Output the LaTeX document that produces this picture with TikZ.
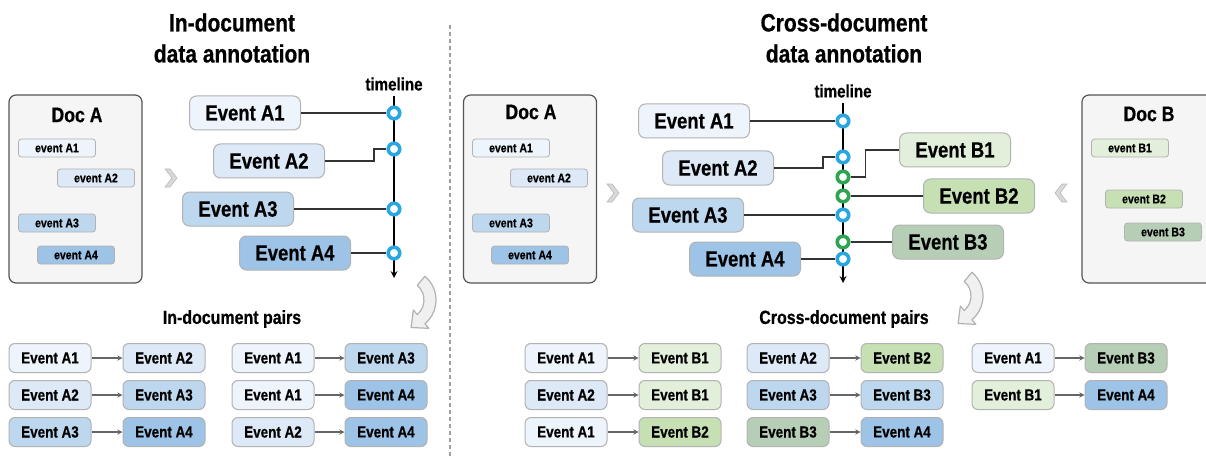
\documentclass[tikz,border=0pt]{standalone}
\usepackage{fontspec}
\setmainfont{Liberation Sans}[FakeStretch=0.84, BoldFeatures={FakeBold=0.6}]
\usetikzlibrary{positioning,calc,arrows,arrows.meta}

\definecolor{evA1}{HTML}{EEF4FB}
\definecolor{evA2}{HTML}{DDE9F6}
\definecolor{evA3}{HTML}{BDD7EE}
\definecolor{evA4}{HTML}{9DC3E6}
\definecolor{evB1}{HTML}{E2EFDA}
\definecolor{evB2}{HTML}{C6E0B4}
\definecolor{evB3}{HTML}{B6CDB6}
\definecolor{docfill}{HTML}{F5F5F5}
\definecolor{docline}{HTML}{555555}
\definecolor{dotblue}{HTML}{2AA6E0}
\definecolor{dotgreen}{HTML}{2FA452}

\tikzset{
	title/.style={align=center, font=\bfseries\fontsize{25}{31}\selectfont},
	subtitle/.style={font=\bfseries\fontsize{19}{21}\selectfont},
	docbox/.style={draw=docline, fill=docfill, rounded corners=7pt, line width=1.2pt,
		minimum width=133pt, minimum height=188pt},
	doclabel/.style={font=\bfseries\fontsize{21}{23}\selectfont, inner sep=0pt},
	smallev/.style={draw=gray!60, fill=#1, rounded corners=3pt, line width=0.8pt,
		minimum width=77pt, minimum height=18pt, inner sep=0pt,
		font=\bfseries\fontsize{12.5}{13}\selectfont},
	bigev/.style={draw=gray!60, fill=#1, rounded corners=7pt, line width=1pt,
		minimum width=111pt, minimum height=34pt, inner sep=0pt,
		font=\bfseries\fontsize{22}{24}\selectfont},
	pairev/.style={draw=gray!60, fill=#1, rounded corners=6pt, line width=1pt,
		minimum width=82pt, minimum height=29pt, inner sep=0pt,
		font=\bfseries\fontsize{16}{18}\selectfont},
	tlnode/.style={font=\bfseries\fontsize{18}{20}\selectfont, inner sep=0pt},
	dot/.style={circle, draw=#1, line width=3.6pt, fill=white, minimum size=11.5pt, inner sep=0pt},
	link/.style={draw=black!80, line width=1.2pt},
	pairarrow/.style={draw=black!60, line width=1.3pt, ->, >=stealth},
	chev/.style={fill=gray!30, draw=gray!55, line width=0.6pt},
	bendarrow/.style={fill=gray!12, draw=gray!60, line width=1.2pt, line join=round},
}

\begin{document}
\begin{tikzpicture}
	\begin{scope}[x=1pt, y=-1pt]
		\useasboundingbox (0,0) rectangle (1206,457);

		% in-document side
		\node[title] (ttlL) at (232,38) {In-document\\data annotation};
		\draw[gray!75, line width=1.5pt, dash pattern=on 4pt off 3pt] (450,25) -- (450,457);

		\node[docbox] (docA) at (75.5,189) {};
		\node[doclabel] (docAl) at (77,115) {Doc A};
		\node[smallev=evA1] (sA1) at (57,148) {event A1};
		\node[smallev=evA2] (sA2) at (96,178) {event A2};
		\node[smallev=evA3] (sA3) at (57,223) {event A3};
		\node[smallev=evA4] (sA4) at (76,255) {event A4};

		\draw[chev] (171,178) ++(-6,-9) -- ++(5,0) -- ++(7,9) -- ++(-7,9) -- ++(-5,0) -- ++(7,-9) -- cycle;

		\node[bigev=evA1] (eA1) at (245,113) {Event A1};
		\node[bigev=evA2] (eA2) at (269,161) {Event A2};
		\node[bigev=evA3] (eA3) at (238,209) {Event A3};
		\node[bigev=evA4] (eA4) at (295,253) {Event A4};

		\node[tlnode] (tlL) at (394,84) {timeline};
		\coordinate (tlLtop) at (394,96);
		\coordinate (tlLend) at (394,278);
		\draw[black, line width=2pt, ->, >=stealth] (tlLtop) -- (tlLend);

		\node[dot=dotblue] (cA1) at (394,113) {};
		\node[dot=dotblue] (cA2) at (394,149) {};
		\node[dot=dotblue] (cA3) at (394,209) {};
		\node[dot=dotblue] (cA4) at (394,253) {};

		\draw[link] (eA1) -- (cA1);
		\draw[link] (eA2.east) -- ++(49,0) |- (cA2);
		\draw[link] (eA3) -- (cA3);
		\draw[link] (eA4) -- (cA4);

		\begin{scope}[shift={(405,300)}, y=1pt]
			\draw[bendarrow] (50:19) -- (50:31) arc[start angle=50, end angle=-50, radius=31]
				-- (-50:37) -- (6.1,-27.5) -- (-50:13) -- (-50:19)
				arc[start angle=-50, end angle=50, radius=19] -- cycle;
		\end{scope}

		\node[subtitle] (prL) at (232,319) {In-document pairs};

		\node[pairev=evA1] (l1a) at (50,358)  {Event A1};
		\node[pairev=evA2] (l1b) at (164,358) {Event A2};
		\node[pairev=evA2] (l2a) at (50,395)  {Event A2};
		\node[pairev=evA3] (l2b) at (164,395) {Event A3};
		\node[pairev=evA3] (l3a) at (50,432)  {Event A3};
		\node[pairev=evA4] (l3b) at (164,432) {Event A4};

		\node[pairev=evA1] (l4a) at (273,358) {Event A1};
		\node[pairev=evA3] (l4b) at (386,358) {Event A3};
		\node[pairev=evA1] (l5a) at (273,395) {Event A1};
		\node[pairev=evA4] (l5b) at (386,395) {Event A4};
		\node[pairev=evA2] (l6a) at (273,432) {Event A2};
		\node[pairev=evA4] (l6b) at (386,432) {Event A4};

		\draw[pairarrow] (l1a) to (l1b);
		\draw[pairarrow] (l2a) to (l2b);
		\draw[pairarrow] (l3a) to (l3b);
		\draw[pairarrow] (l4a) to (l4b);
		\draw[pairarrow] (l5a) to (l5b);
		\draw[pairarrow] (l6a) to (l6b);

		% cross-document side
		\node[title] (ttlR) at (844,38) {Cross-document\\data annotation};

		\node[docbox] (docA2) at (530,189) {};
		\node[doclabel] (docA2l) at (531,112) {Doc A};
		\node[smallev=evA1] (tA1) at (511,148) {event A1};
		\node[smallev=evA2] (tA2) at (549,178) {event A2};
		\node[smallev=evA3] (tA3) at (511,223) {event A3};
		\node[smallev=evA4] (tA4) at (530,255) {event A4};

		\node[docbox] (docB) at (1148.5,189) {};
		\node[doclabel] (docBl) at (1149,114) {Doc B};
		\node[smallev=evB1] (tB1) at (1130,148) {event B1};
		\node[smallev=evB2] (tB2) at (1144,199) {event B2};
		\node[smallev=evB3] (tB3) at (1163,232) {event B3};

		\draw[chev] (613,193) ++(-6,-9) -- ++(5,0) -- ++(7,9) -- ++(-7,9) -- ++(-5,0) -- ++(7,-9) -- cycle;
		\draw[chev] (1061,193) ++(6,-9) -- ++(-5,0) -- ++(-7,9) -- ++(7,9) -- ++(5,0) -- ++(-7,-9) -- cycle;

		\node[bigev=evA1] (fA1) at (694,121) {Event A1};
		\node[bigev=evA2] (fA2) at (718,168) {Event A2};
		\node[bigev=evA3] (fA3) at (688,215) {Event A3};
		\node[bigev=evA4] (fA4) at (745,259) {Event A4};
		\node[bigev=evB1] (fB1) at (955,150) {Event B1};
		\node[bigev=evB2] (fB2) at (979,196) {Event B2};
		\node[bigev=evB3] (fB3) at (948,242) {Event B3};

		\node[tlnode] (tlR) at (843,91) {timeline};
		\coordinate (tlRtop) at (843,103);
		\coordinate (tlRend) at (843,283);
		\draw[black, line width=2pt, ->, >=stealth] (tlRtop) -- (tlRend);

		\node[dot=dotblue]  (dA1) at (843,121) {};
		\node[dot=dotblue]  (dA2) at (843,157) {};
		\node[dot=dotgreen] (dB1) at (843,177) {};
		\node[dot=dotgreen] (dB2) at (843,196) {};
		\node[dot=dotblue]  (dA3) at (843,215) {};
		\node[dot=dotgreen] (dB3) at (843,242) {};
		\node[dot=dotblue]  (dA4) at (843,259) {};

		\draw[link] (fA1) -- (dA1);
		\draw[link] (fA2.east) -- ++(49,0) |- (dA2);
		\draw[link] (fA3) -- (dA3);
		\draw[link] (fA4) -- (dA4);
		\draw[link] (dB1.east) -- ++(15,0) |- (fB1.west);
		\draw[link] (dB2) -- (fB2);
		\draw[link] (dB3) -- (fB3);

		\begin{scope}[shift={(952,296)}, y=1pt]
			\draw[bendarrow] (50:19) -- (50:31) arc[start angle=50, end angle=-50, radius=31]
				-- (-50:37) -- (6.1,-27.5) -- (-50:13) -- (-50:19)
				arc[start angle=-50, end angle=50, radius=19] -- cycle;
		\end{scope}

		\node[subtitle] (prR) at (844,319) {Cross-document pairs};

		\node[pairev=evA1] (r1a) at (566,358) {Event A1};
		\node[pairev=evB1] (r1b) at (680,358) {Event B1};
		\node[pairev=evA2] (r2a) at (566,395) {Event A2};
		\node[pairev=evB1] (r2b) at (680,395) {Event B1};
		\node[pairev=evA1] (r3a) at (566,432) {Event A1};
		\node[pairev=evB2] (r3b) at (680,432) {Event B2};

		\node[pairev=evA2] (r4a) at (788,358) {Event A2};
		\node[pairev=evB2] (r4b) at (902,358) {Event B2};
		\node[pairev=evA3] (r5a) at (788,395) {Event A3};
		\node[pairev=evA3] (r5b) at (902,395) {Event B3};
		\node[pairev=evB3] (r6a) at (788,432) {Event B3};
		\node[pairev=evA4] (r6b) at (902,432) {Event A4};

		\node[pairev=evA1] (r7a) at (1013,358) {Event A1};
		\node[pairev=evB3] (r7b) at (1126,358) {Event B3};
		\node[pairev=evB1] (r8a) at (1013,395) {Event B1};
		\node[pairev=evA4] (r8b) at (1126,395) {Event A4};

		\draw[pairarrow] (r1a) to (r1b);
		\draw[pairarrow] (r2a) to (r2b);
		\draw[pairarrow] (r3a) to (r3b);
		\draw[pairarrow] (r4a) to (r4b);
		\draw[pairarrow] (r5a) to (r5b);
		\draw[pairarrow] (r6a) to (r6b);
		\draw[pairarrow] (r7a) to (r7b);
		\draw[pairarrow] (r8a) to (r8b);
	\end{scope}
\end{tikzpicture}
\end{document}
